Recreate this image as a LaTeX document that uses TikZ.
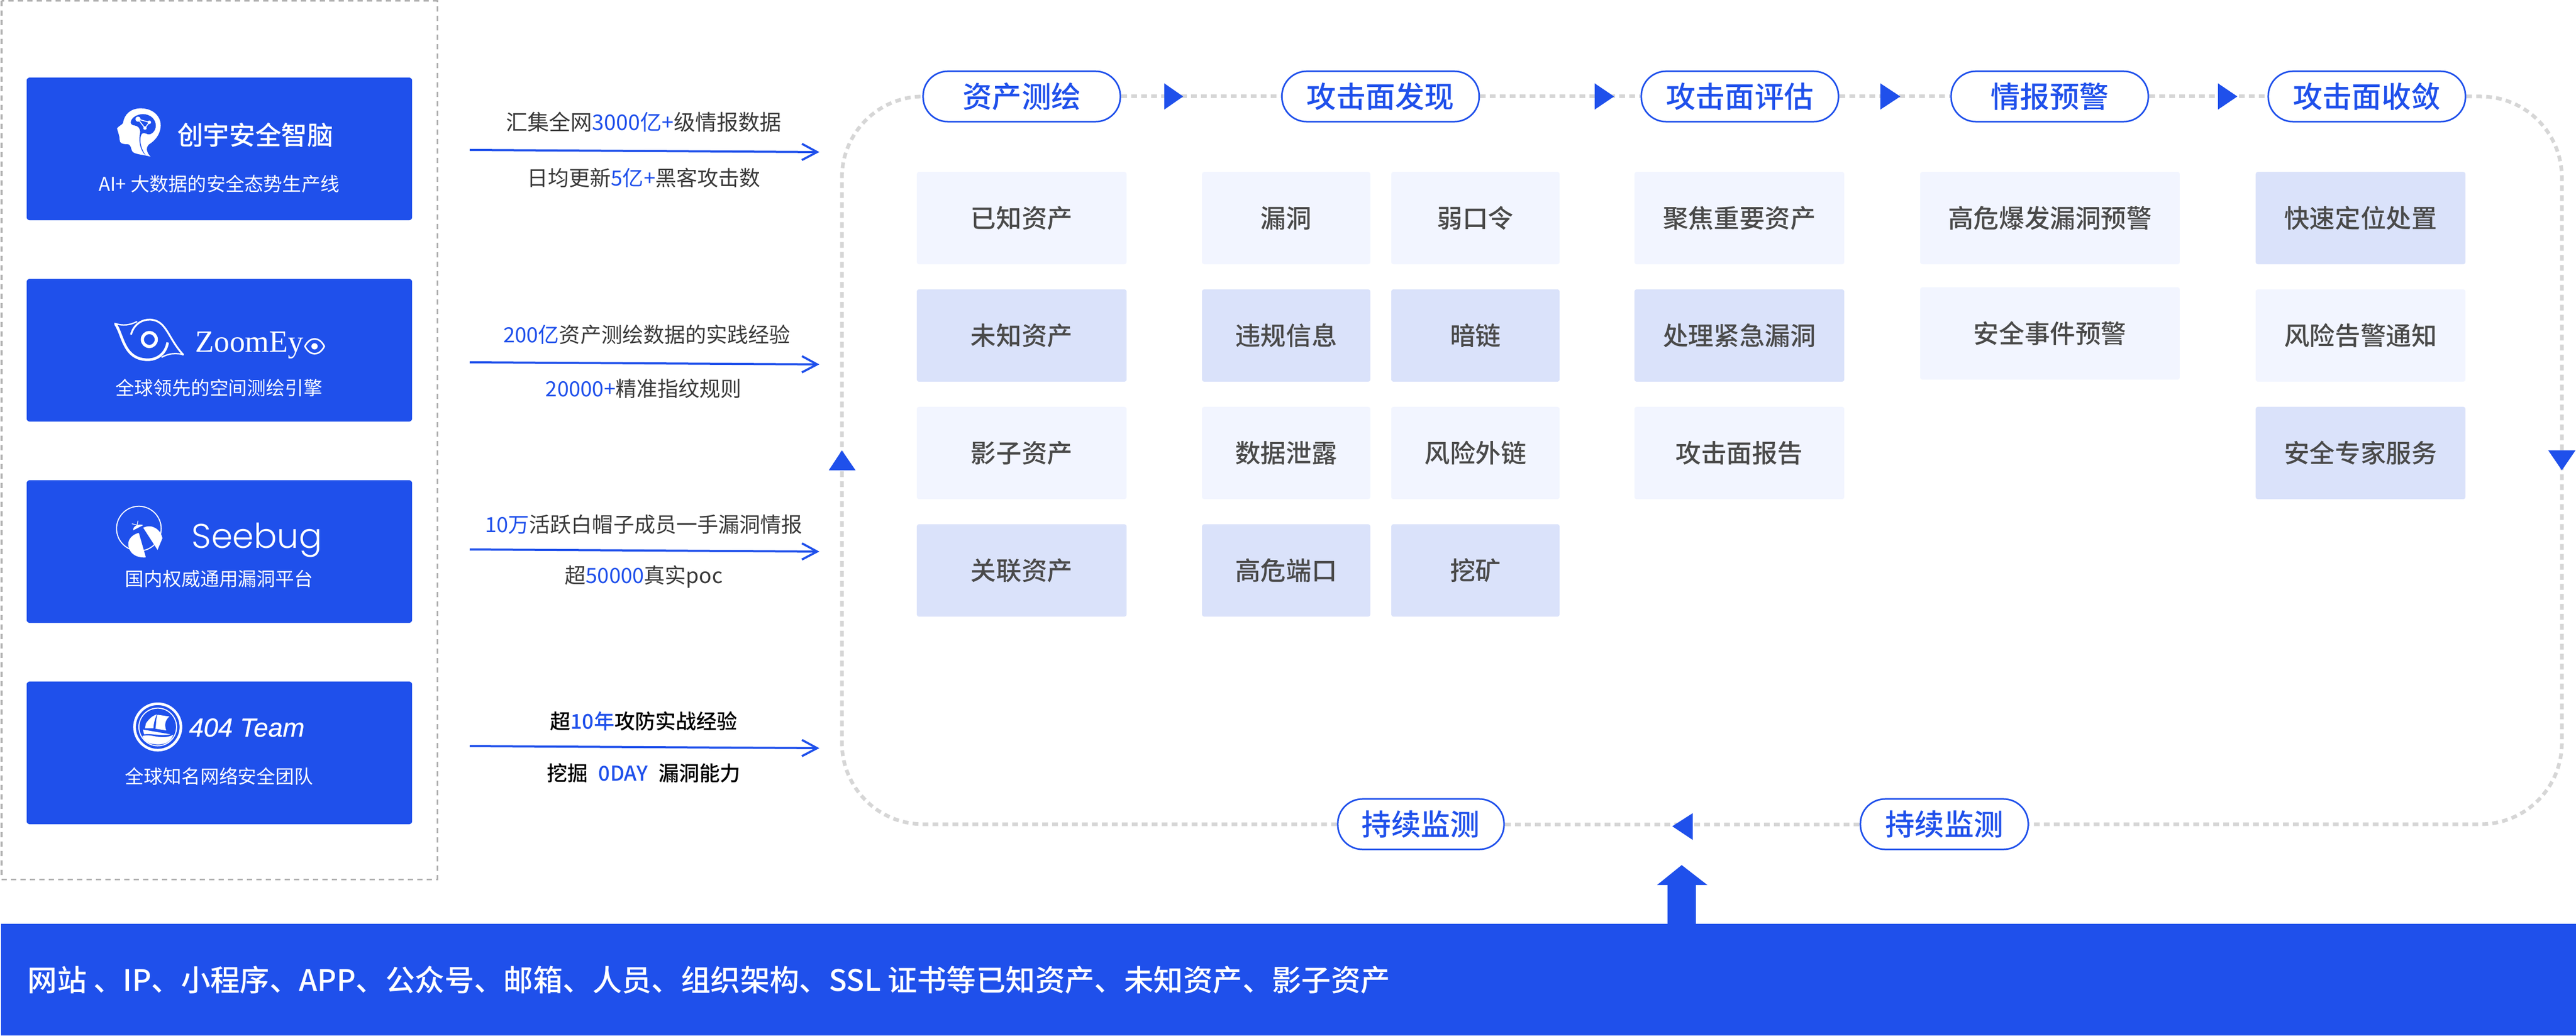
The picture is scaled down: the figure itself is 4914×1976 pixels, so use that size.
\documentclass[tikz,border=0pt]{standalone}
\usepackage{fontspec}
\usepackage{xcolor}
\usepackage{tikz}
\usetikzlibrary{arrows.meta,backgrounds}
\setmainfont{Noto Sans CJK SC}
\newfontfamily\midfont{Noto Sans CJK SC Medium}
\newfontfamily\zoomfont{Liberation Serif}
\newfontfamily\seefont{Poppins Light}
\newfontfamily\teamfont[FakeBold=0.5]{Liberation Sans Italic}

\definecolor{brand}{HTML}{1F50EB}
\definecolor{cellpale}{HTML}{F2F5FF}
\definecolor{celldeep}{HTML}{DAE2FA}
\definecolor{inktext}{HTML}{4A4A4A}
\definecolor{feedtext}{HTML}{3A3A3A}
\definecolor{trackgray}{HTML}{D6D6D6}
\definecolor{framegray}{HTML}{B0B0B0}

\newcommand{\hlb}[1]{\textcolor{brand}{#1}}

\tikzset{
    card/.style={fill=brand, rounded corners=0.06cm, minimum width=7.35cm, minimum height=2.72cm, inner sep=0},
    cardtext/.style={white, font=\fontsize{10.2pt}{12pt}\selectfont, inner sep=0},
    feed/.style={feedtext, font=\fontsize{11.4pt}{13pt}\selectfont, inner sep=0},
    feeddark/.style={black, font=\midfont\fontsize{11.1pt}{13pt}\selectfont, inner sep=0},
    feedarrow/.style={brand, line width=0.04cm, -{Straight Barb[length=0.29cm, width=0.31cm]}},
    stage/.style={draw=brand, fill=white, line width=0.03cm, rounded corners=0.47cm,
        minimum width=3.76cm, minimum height=0.96cm, inner sep=0,
        text=brand, font=\midfont\fontsize{16pt}{18pt}\selectfont},
    track/.style={trackgray, line width=0.07cm, dash pattern=on 0.11cm off 0.08cm},
    cellbase/.style={rounded corners=0.04cm, minimum height=1.76cm, inner sep=0,
        text=inktext, font=\midfont\fontsize{13.8pt}{15pt}\selectfont},
    pale/.style={cellbase, fill=cellpale},
    deep/.style={cellbase, fill=celldeep},
}

\begin{document}
\begin{tikzpicture}[x=0.01cm, y=-0.01cm]
    \useasboundingbox (0,0) rectangle (4914,1976);

    % Kader links
    \draw[framegray, line width=0.03cm, dash pattern=on 0.1cm off 0.08cm] (3,2) rectangle (834,1677);

    % Kaarten
    \node[card] (cardBrain) at (418.5,284) {};
    \node[card] (cardZoom) at (418.5,668) {};
    \node[card] (cardBug) at (418.5,1052) {};
    \node[card] (cardTeam) at (418.5,1436) {};

    % Kaarttitels
    \node[white, font=\midfont\fontsize{14.1pt}{16pt}\selectfont, inner sep=0] (brainName) at (487,257) {创宇安全智脑};
    \node[white, font=\zoomfont\fontsize{16.8pt}{18pt}\selectfont, inner sep=0, anchor=base west] (zoomName) at (372,672) {ZoomEy};
    \node[white, font=\seefont\fontsize{18.6pt}{20pt}\selectfont, inner sep=0, anchor=base west] (bugName) at (365,1045) {Seebug};
    \node[white, font=\teamfont\fontsize{14.2pt}{16pt}\selectfont, inner sep=0, anchor=base west] (teamName) at (360,1405) {404 Team};

    % Kaartteksten
    \node[cardtext, font=\fontsize{10.3pt}{12pt}\selectfont] (brainNote) at (418,351) {AI+ 大数据的安全态势生产线};
    \node[cardtext] (zoomNote) at (418,740) {全球领先的空间测绘引擎};
    \node[cardtext] (bugNote) at (418,1104) {国内权威通用漏洞平台};
    \node[cardtext] (teamNote) at (418,1481) {全球知名网络安全团队};

    % Logo brein
    \begin{scope}[shift={(210,195)}, x=0.00333cm, y=-0.00333cm]
        \fill[white] (232,312) .. controls (190,300) and (150,300) .. (130,285)
            .. controls (115,265) and (125,240) .. (95,240)
            .. controls (70,240) and (55,235) .. (55,215)
            .. controls (55,195) and (45,170) .. (40,150)
            .. controls (50,135) and (70,130) .. (75,118)
            .. controls (80,70) and (120,35) .. (175,35)
            .. controls (250,35) and (292,85) .. (290,135)
            .. controls (288,190) and (250,225) .. (225,240)
            .. controls (205,255) and (205,285) .. (232,312) -- cycle;
        \fill[brand] (118,115) .. controls (122,85) and (160,68) .. (190,68)
            .. controls (235,70) and (262,100) .. (262,135)
            .. controls (262,165) and (235,190) .. (215,183)
            .. controls (205,178) and (190,175) .. (183,180)
            .. controls (170,195) and (165,250) .. (205,305)
            .. controls (165,270) and (165,210) .. (172,175)
            .. controls (175,150) and (160,135) .. (140,133)
            .. controls (128,132) and (118,125) .. (118,115) -- cycle;
        \draw[white, line width=0.018cm] (160,97) -- (225,115) -- (200,148) -- cycle;
        \fill[white] (160,97) circle (15) (225,115) circle (10) (200,148) circle (10);
    \end{scope}

    % Logo oog
    \begin{scope}[shift={(205,595)}, x=0.00333cm, y=-0.00333cm]
        \draw[white, line width=0.05cm] (45,68) .. controls (90,130) and (90,272) .. (230,274)
            .. controls (290,274) and (335,235) .. (345,175);
        \draw[white, line width=0.035cm] (135,130) .. controls (150,70) and (200,42) .. (245,44)
            .. controls (340,48) and (345,150) .. (435,246);
        \draw[white, line width=0.025cm] (40,65) .. controls (90,82) and (130,75) .. (170,55);
        \draw[white, line width=0.025cm] (437,246) .. controls (395,232) and (350,238) .. (310,260);
        \draw[white, line width=0.06cm] (240,158) circle (40);
        % klein oog
        \draw[white, line width=0.03cm] (1132,197) .. controls (1160,140) and (1215,140) .. (1243,197)
            .. controls (1215,254) and (1160,254) .. (1132,197) -- cycle;
        \fill[white] (1187,197) circle (18);
    \end{scope}

    % Logo kever
    \begin{scope}[shift={(210,955)}, x=0.00333cm, y=-0.00333cm]
        \draw[white, line width=0.02cm] (165,160) circle (128);
        \fill[white] (165,185) -- (205,325) .. controls (140,330) and (100,290) .. (105,240)
            .. controls (108,215) and (135,190) .. (165,185) -- cycle;
        \fill[white] (190,155) -- (272,282) -- (300,215) .. controls (290,165) and (240,130) .. (190,155) -- cycle;
        \fill[white] (132,170) .. controls (130,145) and (165,130) .. (190,140) -- cycle;
        \draw[white, line width=0.012cm] (125,132) -- (155,140) -- (160,115);
    \end{scope}

    % Logo schip
    \begin{scope}[shift={(240,1330)}, x=0.00333cm, y=-0.00333cm]
        \draw[white, line width=0.05cm] (183,170) circle (133);
        \draw[white, line width=0.02cm] (183,170) circle (108);
        \fill[white] (95,222) .. controls (150,205) and (200,250) .. (272,215)
            .. controls (255,265) and (210,270) .. (183,270)
            .. controls (140,270) and (105,255) .. (95,222) -- cycle;
        \fill[white] (115,150) .. controls (135,120) and (155,105) .. (178,98)
            .. controls (165,125) and (160,150) .. (158,178) -- (110,178) -- cycle;
        \fill[white] (182,100) -- (250,110) .. controls (225,130) and (220,160) .. (232,190)
            -- (170,180) .. controls (175,150) and (172,125) .. (182,100) -- cycle;
        \fill[white] (98,185) -- (255,212) .. controls (200,225) and (150,205) .. (105,212) -- cycle;
    \end{scope}

    % Tekst naast de pijlen
    \node[feed, font=\fontsize{11.7pt}{13pt}\selectfont] (feedAtop) at (1228,233) {汇集全网\hlb{3000亿+}级情报数据};
    \node[feed] (feedAlow) at (1228,339) {日均更新\hlb{5亿+}黑客攻击数};
    \node[feed] (feedBtop) at (1234,638) {\hlb{200亿}资产测绘数据的实践经验};
    \node[feed] (feedBlow) at (1228,741) {\hlb{20000+}精准指纹规则};
    \node[feed] (feedCtop) at (1228,1000) {\hlb{10万}活跃白帽子成员一手漏洞情报};
    \node[feed] (feedClow) at (1228,1100) {超\hlb{50000}真实poc};
    \node[feeddark] (feedDtop) at (1228,1376) {超\hlb{10年}攻防实战经验};
    \node[feeddark] (feedDlow) at (1228,1475) {挖掘\hspace*{0.2cm}\hlb{0DAY}\hspace*{0.2cm}漏洞能力};

    % Pijlen
    \coordinate (arrowAin) at (896,286);
    \coordinate (arrowAout) at (1563,290);
    \coordinate (arrowBin) at (896,691);
    \coordinate (arrowBout) at (1563,695);
    \coordinate (arrowCin) at (896,1048);
    \coordinate (arrowCout) at (1563,1052);
    \coordinate (arrowDin) at (896,1423);
    \coordinate (arrowDout) at (1563,1427);
    \draw[feedarrow] (arrowAin) -- (arrowAout);
    \draw[feedarrow] (arrowBin) -- (arrowBout);
    \draw[feedarrow] (arrowCin) -- (arrowCout);
    \draw[feedarrow] (arrowDin) -- (arrowDout);

    % Stappen
    \node[stage] (stepMap) at (1949,184) {资产测绘};
    \node[stage] (stepFind) at (2633.5,184) {攻击面发现};
    \node[stage] (stepRate) at (3319,184) {攻击面评估};
    \node[stage] (stepWarn) at (3910,184) {情报预警};
    \node[stage] (stepClose) at (4515,184) {攻击面收敛};
    \node[stage, minimum width=3.17cm] (watchLeft) at (2710.5,1572) {持续监测};
    \node[stage, minimum width=3.20cm] (watchRight) at (3709,1572) {持续监测};

    % Stippellijn
    \coordinate (cornerNW) at (1606,184);
    \coordinate (cornerNE) at (4887,184);
    \coordinate (cornerSE) at (4887,1572);
    \coordinate (cornerSW) at (1606,1572);
    \begin{scope}[on background layer]
        \draw[track] (stepMap) -- (stepFind);
        \draw[track] (stepFind) -- (stepRate);
        \draw[track] (stepRate) -- (stepWarn);
        \draw[track] (stepWarn) -- (stepClose);
        \draw[track, rounded corners=1.55cm] (stepClose.east) -- (cornerNE) -- (cornerSE) -- (watchRight.east);
        \draw[track] (watchRight) -- (watchLeft);
        \draw[track, rounded corners=1.55cm] (watchLeft.west) -- (cornerSW) -- (cornerNW) -- (stepMap.west);
    \end{scope}

    % Driehoeken
    \fill[brand] (2221,159) -- (2257,184) -- (2221,209) -- cycle;
    \fill[brand] (3042,159) -- (3079,184) -- (3042,209) -- cycle;
    \fill[brand] (3587,159) -- (3625,184) -- (3587,209) -- cycle;
    \fill[brand] (4231,159) -- (4268,184) -- (4231,209) -- cycle;
    \fill[brand] (4861,859) -- (4913,859) -- (4887,897) -- cycle;
    \fill[brand] (1581,897) -- (1632,897) -- (1606,859) -- cycle;
    \fill[brand] (3229,1551) -- (3229,1602) -- (3190,1576) -- cycle;

    % Vakken
    \node[pale, minimum width=4cm] (knownAsset) at (1949,416) {已知资产};
    \node[deep, minimum width=4cm] (unknownAsset) at (1949,640) {未知资产};
    \node[pale, minimum width=4cm] (shadowAsset) at (1949,864) {影子资产};
    \node[deep, minimum width=4cm] (linkedAsset) at (1949,1088) {关联资产};
    \node[pale, minimum width=3.21cm] (vulnCell) at (2453.5,416) {漏洞};
    \node[deep, minimum width=3.21cm] (ruleCell) at (2453.5,640) {违规信息};
    \node[pale, minimum width=3.21cm] (leakCell) at (2453.5,864) {数据泄露};
    \node[deep, minimum width=3.21cm] (portCell) at (2453.5,1088) {高危端口};
    \node[pale, minimum width=3.21cm] (weakCell) at (2814.5,416) {弱口令};
    \node[deep, minimum width=3.21cm] (darkCell) at (2814.5,640) {暗链};
    \node[pale, minimum width=3.21cm] (outCell) at (2814.5,864) {风险外链};
    \node[deep, minimum width=3.21cm] (mineCell) at (2814.5,1088) {挖矿};
    \node[pale, minimum width=4cm] (focusCell) at (3318,416) {聚焦重要资产};
    \node[deep, minimum width=4cm] (urgentCell) at (3318,640) {处理紧急漏洞};
    \node[pale, minimum width=4cm] (reportCell) at (3318,864) {攻击面报告};
    \node[pale, minimum width=4.95cm] (burstCell) at (3910.5,416) {高危爆发漏洞预警};
    \node[pale, minimum width=4.95cm] (eventCell) at (3910.5,636) {安全事件预警};
    \node[deep, minimum width=4cm] (locateCell) at (4503,416) {快速定位处置};
    \node[pale, minimum width=4cm] (alertCell) at (4503,640) {风险告警通知};
    \node[deep, minimum width=4cm] (expertCell) at (4503,864) {安全专家服务};

    % Balk onder
    \node[fill=brand, minimum width=49.11cm, minimum height=2.12cm, inner sep=0] (assetBar) at (2458.5,1868.5) {};
    \node[white, font=\midfont\fontsize{16.04pt}{18pt}\selectfont, inner sep=0, anchor=west] (assetText) at (52,1869) {网站 、IP、小程序、APP、公众号、邮箱、人员、组织架构、SSL 证书等已知资产、未知资产、影子资产};

    % Grote pijl
    \fill[brand] (3181,1763) -- (3181,1688) -- (3161,1688) -- (3208,1650) -- (3257,1688) -- (3235,1688) -- (3235,1763) -- cycle;
\end{tikzpicture}
\end{document}
